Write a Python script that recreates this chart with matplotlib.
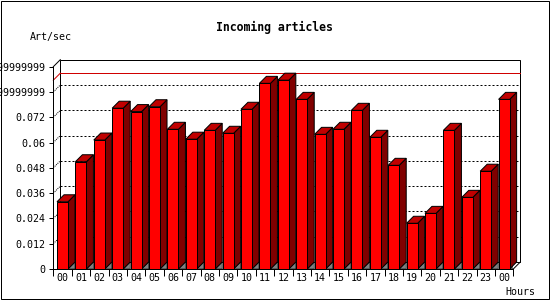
import matplotlib
matplotlib.use("Agg")
import matplotlib.pyplot as plt
from matplotlib.patches import Polygon
import numpy as np

# hourly article rate (Art/sec)
hours = ["00", "01", "02", "03", "04", "05", "06", "07", "08", "09", "10", "11",
         "12", "13", "14", "15", "16", "17", "18", "19", "20", "21", "22", "23", "00"]
rate = [0.0319, 0.0509, 0.0612, 0.0763, 0.0747, 0.0770, 0.0663, 0.0616, 0.0658,
        0.0644, 0.0758, 0.0881, 0.0896, 0.0805, 0.0639, 0.0663, 0.0753, 0.0625,
        0.0492, 0.0217, 0.0264, 0.0658, 0.0340, 0.0464, 0.0805]
yticks = [0, 0.012, 0.024, 0.036, 0.048, 0.06, 0.072, 0.084, 0.096]
ylabels = ["0", "0.012", "0.024", "0.036", "0.048", "0.06", "0.072",
           "0.08399999999", "0.09599999999"]

FRONT, TOP, SIDE, SHADE = "#FF0000", "#C00000", "#800000", "#808080"
MONO = "DejaVu Sans Mono"
LW = 0.72  # one pixel
DEPTH = 7  # 3d depth in pixels

W, H = 550, 300
fig = plt.figure(figsize=(W / 100, H / 100), dpi=100)
ax = fig.add_axes([53.3 / W, 31 / H, 460 / W, 202.3 / H])
n = len(rate)
ax.set_xlim(0, n)
ax.set_ylim(0, 0.096)
for s in ["top", "right"]:
    ax.spines[s].set_visible(False)
for s in ["left", "bottom"]:
    ax.spines[s].set_linewidth(LW)
    ax.spines[s].set_zorder(6)
ax.patch.set_visible(False)

# depth offset in data units
bb = ax.get_window_extent()
dx = DEPTH * n / bb.width
dy = DEPTH * 0.096 / bb.height
ytop = ax.get_ylim()[1]

# back wall, left wall and floor edges
ax.add_patch(Polygon([(dx, dy), (n + dx, dy), (n + dx, ytop + dy - 0.0003 * 0), (dx, ytop + dy)],
                     closed=True, fc="white", ec="black", lw=LW, clip_on=False, zorder=0))
ax.plot([0, dx], [ytop, ytop + dy], color="black", lw=LW, clip_on=False, zorder=1)
ax.plot([n, n + dx], [0, dy], color="black", lw=LW, clip_on=False, zorder=1)

# dotted grid on back wall + left wall
for v in yticks[1:-1]:
    ax.plot([dx, n + dx], [v + dy, v + dy], color="black", lw=LW,
            dashes=(2, 2), clip_on=False, zorder=1)
    ax.plot([0, dx], [v, v + dy], color="black", lw=LW,
            dashes=(1, 1), clip_on=False, zorder=1)

# max line
vmax = max(rate)
ax.plot([dx, n + dx], [vmax + dy, vmax + dy], color="#D00000", lw=LW, clip_on=False, zorder=1)
ax.plot([0, dx], [vmax, vmax + dy], color="#D00000", lw=LW, clip_on=False, zorder=1)

# 3d bars
x = np.arange(n) + 0.5
bw = 0.6
for i, v in enumerate(rate):
    l, r = x[i] - bw / 2, x[i] + bw / 2
    z = 3 + i * 0.01
    ax.add_patch(Polygon([(r, 0), (r + dx, dy), (r + dx, 0)], closed=True,
                         fc=SHADE, ec="black", lw=LW * 0.6, zorder=z))
    ax.add_patch(Polygon([(r, 0), (r + dx, dy), (r + dx, v + dy), (r, v)], closed=True,
                         fc=SIDE, ec="black", lw=LW, zorder=z, clip_on=False))
    ax.add_patch(Polygon([(l, v), (r, v), (r + dx, v + dy), (l + dx, v + dy)], closed=True,
                         fc=TOP, ec="black", lw=LW, zorder=z, clip_on=False))
ax.bar(x, rate, width=bw, color=FRONT, edgecolor="black", linewidth=LW, zorder=4)

# axes ticks
ax.set_yticks(yticks)
ax.set_yticklabels(ylabels, family=MONO, fontsize=7.2)
ax.tick_params(axis="y", direction="out", length=3, width=LW, pad=3)
ax.set_xticks(np.arange(n + 1))
ax.set_xticklabels([])
ax.set_xticks(x, minor=True)
ax.set_xticklabels(hours, minor=True, family=MONO, fontsize=7.2)
ax.tick_params(axis="x", which="major", direction="out", length=5, width=LW)
ax.tick_params(axis="x", which="minor", length=0, pad=3)

fig.text(274 / W, 1 - 27 / H, "Incoming articles", family=MONO, fontweight="bold",
         fontsize=8.3, ha="center", va="center")
fig.text(30 / W, 1 - 37 / H, "Art/sec", family=MONO, fontsize=7.2, ha="left", va="center")
fig.text(505 / W, 1 - 292 / H, "Hours", family=MONO, fontsize=7.2, ha="left", va="center")

# image frame
fig.add_artist(plt.Rectangle((0.5 / W, 1.5 / H), 548 / W, 298 / H, transform=fig.transFigure,
                             fill=False, ec="black", lw=LW))

fig.savefig("out.png", dpi=100)
